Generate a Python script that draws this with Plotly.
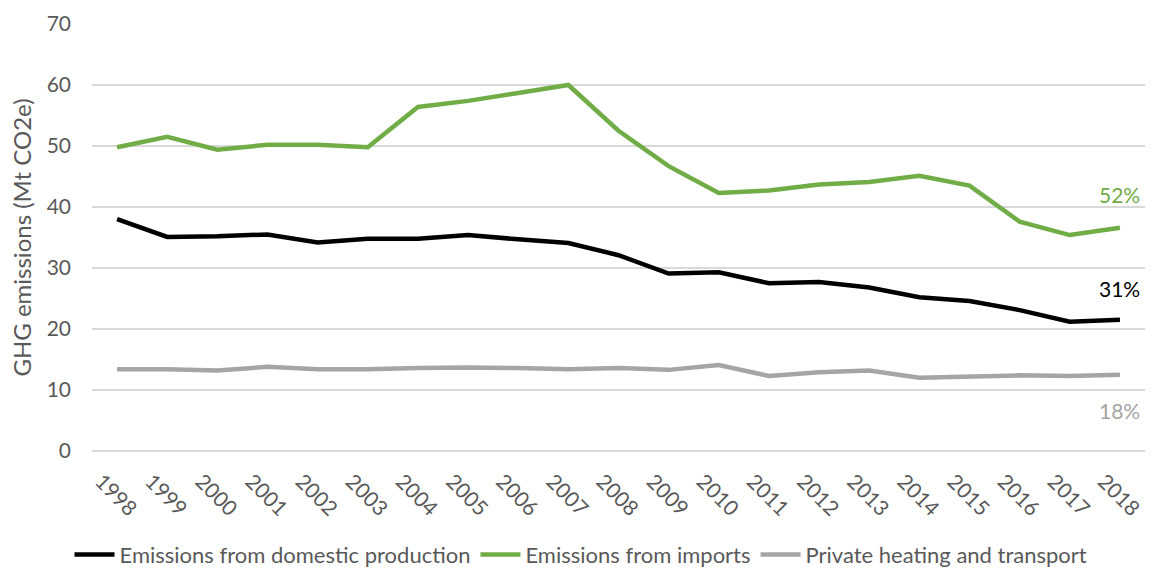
import plotly.graph_objects as go

years = [str(y) for y in range(1998, 2019)]
domestic = [38.0, 35.1, 35.2, 35.5, 34.2, 34.8, 34.8, 35.4, 34.7, 34.1, 32.1,
            29.1, 29.3, 27.5, 27.7, 26.8, 25.2, 24.6, 23.1, 21.2, 21.5]
imports = [49.8, 51.5, 49.4, 50.2, 50.2, 49.8, 56.4, 57.4, 58.7, 60.0, 52.5,
           46.7, 42.3, 42.7, 43.7, 44.1, 45.1, 43.5, 37.6, 35.4, 36.6]
private = [13.4, 13.4, 13.2, 13.8, 13.4, 13.4, 13.6, 13.7, 13.6, 13.4, 13.6,
           13.3, 14.1, 12.3, 12.9, 13.2, 12.0, 12.2, 12.4, 12.3, 12.5]
series_names = ["Emissions from domestic production", "Emissions from imports",
                "Private heating and transport"]
share_labels = ["31%", "52%", "18%"]
label_y = [26.6, 42.0, 6.7]
colors = ["#000000", "#70AD47", "#A5A5A5"]

FONT = "Lato"
fig = go.Figure()
for name, vals, col in zip(series_names, [domestic, imports, private], colors):
    fig.add_trace(go.Scatter(x=years, y=vals, name=name, mode="lines",
                             line=dict(color=col, width=4.5)))

last_idx = len(years) - 1
for txt, yv, col in zip(share_labels, label_y, colors):
    fig.add_annotation(x=last_idx, y=yv, text=txt, showarrow=False,
                       font=dict(family=FONT, size=21, color=col),
                       xanchor="center", yanchor="middle")

fig.update_layout(
    width=1162, height=572,
    margin=dict(l=92, r=17, t=24, b=121, autoexpand=False),
    plot_bgcolor="white", paper_bgcolor="white",
    font=dict(family=FONT, size=21, color="#595959"),
    showlegend=True,
    legend=dict(orientation="h", x=0.5, xanchor="center", xref="container",
                y=-0.243, yanchor="middle", yref="paper",
                font=dict(family=FONT, size=22, color="#595959"),
                itemwidth=40, tracegroupgap=0),
    xaxis=dict(type="category", categoryorder="array", categoryarray=years,
               range=[-0.5, len(years) - 0.5],
               tickangle=45, showgrid=False, showline=False,
               ticks="", ticklabelshift=-16, ticklabelstandoff=13,
               tickfont=dict(family=FONT, size=21, color="#595959")),
    yaxis=dict(range=[0, 70], dtick=10, showgrid=True, gridcolor="#D9D9D9",
               gridwidth=1.5, zeroline=True, zerolinecolor="#D9D9D9",
               zerolinewidth=1.5, ticks="", ticklabelstandoff=20,
               tickfont=dict(family=FONT, size=21, color="#595959"),
               title=dict(text="GHG emissions (Mt CO2e)", standoff=8,
                          font=dict(family=FONT, size=24, color="#595959"))),
)

fig.write_html("out.html")
